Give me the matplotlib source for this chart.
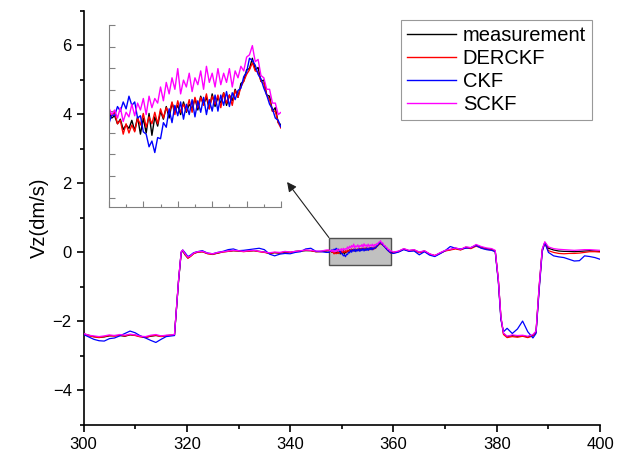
import matplotlib.pyplot as plt
import numpy as np
from matplotlib.patches import Rectangle
from matplotlib.ticker import MultipleLocator, FixedLocator

plt.rcParams['font.family'] = ['Liberation Sans', 'DejaVu Sans']

# time samples (s): before the zoomed window, inside it, after it
t_before = [300, 301, 302, 303, 304, 305, 306, 307, 308, 309, 310, 311, 312, 313, 314, 315, 316, 317,
            317.6, 318.0, 318.4, 318.9, 319.2, 319.6, 320.2, 320.7, 321.3,
            322, 323, 324, 325, 326, 327, 328, 329, 330, 331, 332, 333, 334, 335, 336, 337, 338, 339,
            340, 341, 342, 343, 344, 345, 346, 347]
t_zoom = np.round(np.arange(347.5, 359.51, 0.2), 1)
t_after = [360, 361, 362, 363, 364, 365, 366, 367, 368, 369, 370, 371, 372, 373, 374, 375, 376, 377, 378, 379,
           379.7, 380.3, 380.8, 381.3,
           382, 383, 384, 385, 386, 387,
           387.6, 388.2, 388.8, 389.3,
           390, 391, 392, 393, 394, 395, 396, 397, 398, 399, 400]

meas_before = [-2.36, -2.40, -2.44, -2.46, -2.45, -2.42, -2.41, -2.41, -2.43, -2.39, -2.40, -2.43, -2.46, -2.43, -2.41, -2.43, -2.41, -2.40,
               -2.40, -1.62, -0.82, -0.02, 0.05, -0.06, -0.16, -0.11, -0.03,
               0.01, 0.02, -0.03, -0.05, -0.02, 0.02, 0.03, 0.05, 0.04, 0.03, 0.04, 0.05, 0.03, 0.01, -0.03, -0.01, -0.02, 0.01,
               0.00, 0.03, 0.04, 0.05, 0.05, 0.02, 0.03, 0.04]
derckf_before = [-2.37, -2.42, -2.45, -2.47, -2.44, -2.41, -2.43, -2.40, -2.42, -2.38, -2.41, -2.45, -2.47, -2.42, -2.40, -2.44, -2.42, -2.40,
                 -2.40, -1.60, -0.80, 0.00, 0.06, -0.05, -0.17, -0.12, -0.04,
                 0.00, 0.02, -0.04, -0.06, -0.02, 0.01, 0.03, 0.05, 0.04, 0.02, 0.04, 0.05, 0.02, 0.00, -0.03, 0.00, -0.02, 0.02,
                 0.00, 0.02, 0.04, 0.06, 0.05, 0.02, 0.02, 0.05]
ckf_before = [-2.38, -2.45, -2.52, -2.56, -2.57, -2.50, -2.48, -2.42, -2.35, -2.28, -2.33, -2.42, -2.48, -2.55, -2.61, -2.52, -2.44, -2.42,
              -2.41, -1.62, -0.80, 0.01, 0.07, 0.00, -0.12, -0.08, -0.01,
              0.02, 0.05, -0.02, -0.04, 0.00, 0.03, 0.08, 0.10, 0.05, 0.06, 0.08, 0.10, 0.12, 0.08, -0.05, -0.10, -0.05, -0.03,
              -0.04, 0.00, 0.02, 0.10, 0.12, 0.03, 0.02, 0.00]
sckf_before = [-2.35, -2.40, -2.42, -2.44, -2.42, -2.39, -2.41, -2.38, -2.40, -2.37, -2.39, -2.43, -2.44, -2.40, -2.38, -2.42, -2.40, -2.39,
               -2.38, -1.58, -0.78, 0.02, 0.07, -0.03, -0.14, -0.10, -0.02,
               0.02, 0.03, -0.02, -0.04, 0.00, 0.02, 0.04, 0.06, 0.05, 0.03, 0.05, 0.06, 0.03, 0.01, -0.01, 0.01, 0.00, 0.03,
               0.01, 0.03, 0.05, 0.07, 0.06, 0.04, 0.04, 0.07]

meas_zoom = [0.05, 0.025, 0.035, 0.00, 0.02, -0.025, -0.005, -0.02, 0.015, -0.03,
             0.03, -0.045, 0.025, -0.04, 0.045, -0.05, 0.03, -0.01, 0.055, 0.02,
             0.075, 0.025, 0.09, 0.055, 0.08, 0.04, 0.095, 0.05, 0.085, 0.065,
             0.11, 0.06, 0.12, 0.085, 0.115, 0.065, 0.13, 0.075, 0.115, 0.09,
             0.135, 0.08, 0.125, 0.10, 0.15, 0.115, 0.175, 0.185, 0.235, 0.24,
             0.285, 0.235, 0.245, 0.185, 0.19, 0.125, 0.12, 0.055, 0.07, 0.005, -0.005]
derckf_zoom = [0.06, 0.035, 0.05, 0.00, 0.015, -0.045, 0.00, -0.04, -0.005, -0.035,
               0.025, -0.005, 0.045, -0.015, 0.03, 0.00, 0.05, 0.00, 0.065, 0.025,
               0.07, 0.045, 0.095, 0.04, 0.10, 0.05, 0.085, 0.055, 0.105, 0.05,
               0.115, 0.07, 0.115, 0.08, 0.13, 0.065, 0.12, 0.085, 0.125, 0.07,
               0.135, 0.09, 0.125, 0.08, 0.145, 0.115, 0.16, 0.185, 0.215, 0.235,
               0.265, 0.23, 0.225, 0.185, 0.175, 0.125, 0.105, 0.055, 0.055, 0.005, -0.02]
ckf_zoom = [0.00, 0.04, 0.035, 0.075, 0.055, 0.095, 0.065, 0.12, 0.08, 0.095,
            0.025, 0.035, -0.035, -0.045, -0.10, -0.075, -0.125, -0.06, -0.065, 0.005,
            -0.015, 0.065, 0.005, 0.08, 0.035, 0.095, 0.02, 0.085, 0.04, 0.105,
            0.03, 0.10, 0.05, 0.115, 0.04, 0.105, 0.055, 0.125, 0.055, 0.125,
            0.08, 0.14, 0.075, 0.135, 0.105, 0.145, 0.155, 0.205, 0.225, 0.285,
            0.275, 0.255, 0.215, 0.195, 0.155, 0.125, 0.085, 0.065, 0.025, 0.015, -0.015]
sckf_zoom = [0.07, 0.04, 0.06, 0.025, 0.07, 0.01, 0.05, 0.03, 0.085, 0.035,
             0.09, 0.06, 0.11, 0.04, 0.12, 0.07, 0.11, 0.09, 0.16, 0.10,
             0.18, 0.13, 0.20, 0.15, 0.24, 0.13, 0.19, 0.16, 0.22, 0.14,
             0.20, 0.17, 0.23, 0.15, 0.25, 0.18, 0.22, 0.16, 0.24, 0.17,
             0.22, 0.18, 0.24, 0.16, 0.23, 0.20, 0.25, 0.23, 0.29, 0.30,
             0.34, 0.27, 0.28, 0.21, 0.20, 0.15, 0.15, 0.09, 0.09, 0.04, 0.05]

meas_after = [0.00, 0.03, 0.10, 0.05, 0.07, 0.00, 0.04, -0.05, -0.10, -0.02, 0.05, 0.08, 0.12, 0.08, 0.15, 0.13, 0.21, 0.15, 0.11, 0.09,
              0.04, -0.80, -1.88, -2.35,
              -2.44, -2.41, -2.43, -2.42, -2.45, -2.40,
              -2.30, -1.00, 0.08, 0.29,
              0.12, 0.07, 0.04, 0.03, 0.03, 0.02, 0.03, 0.04, 0.05, 0.04, 0.03]
derckf_after = [-0.02, 0.02, 0.09, 0.04, 0.06, -0.01, 0.03, -0.05, -0.09, -0.03, 0.04, 0.07, 0.10, 0.07, 0.13, 0.11, 0.18, 0.13, 0.09, 0.07,
                0.03, -0.80, -1.90, -2.38,
                -2.47, -2.44, -2.46, -2.43, -2.47, -2.42,
                -2.32, -1.05, 0.05, 0.26,
                0.05, 0.00, -0.03, -0.04, -0.03, -0.03, -0.02, 0.00, 0.02, 0.02, 0.01]
ckf_after = [-0.03, 0.01, 0.08, 0.03, 0.04, -0.07, 0.02, -0.08, -0.12, -0.04, 0.05, 0.17, 0.12, 0.10, 0.12, 0.14, 0.20, 0.12, 0.08, 0.06,
             0.02, -0.85, -1.95, -2.30,
             -2.20, -2.35, -2.22, -1.99, -2.30, -2.48,
             -2.35, -1.10, 0.02, 0.28,
             0.00, -0.10, -0.13, -0.15, -0.20, -0.25, -0.24, -0.10, -0.12, -0.15, -0.20]
sckf_after = [0.01, 0.04, 0.11, 0.06, 0.08, 0.01, 0.05, -0.04, -0.09, -0.01, 0.06, 0.09, 0.13, 0.09, 0.16, 0.14, 0.23, 0.17, 0.13, 0.11,
              0.06, -0.78, -1.86, -2.34,
              -2.43, -2.39, -2.41, -2.40, -2.43, -2.38,
              -2.28, -0.98, 0.10, 0.31,
              0.16, 0.11, 0.09, 0.08, 0.07, 0.06, 0.07, 0.08, 0.08, 0.07, 0.06]

labels = ['measurement', 'DERCKF', 'CKF', 'SCKF']
colors = ['#000000', '#ff0000', '#0000ff', '#ff00ff']

# zoom window shown in the inset
zx0, zx1 = 347.5, 359.5
zy0, zy1 = -0.36, 0.43

t = np.concatenate([t_before, t_zoom, t_after])
series = [np.concatenate([meas_before, meas_zoom, meas_after]),
          np.concatenate([derckf_before, derckf_zoom, derckf_after]),
          np.concatenate([ckf_before, ckf_zoom, ckf_after]),
          np.concatenate([sckf_before, sckf_zoom, sckf_after])]

fig = plt.figure(figsize=(6.33, 4.53), dpi=100)
ax = fig.add_axes([0.132, 0.062, 0.816, 0.914])

handles = []
for y, c, lab in zip(series, colors, labels):
    h, = ax.plot(t, y, color=c, lw=0.9, zorder=3)
    handles.append(h)

ax.add_patch(Rectangle((zx0, zy0), zx1 - zx0, zy1 - zy0, facecolor='#c0c0c0',
                       edgecolor='#505050', lw=1, zorder=2))
ax.annotate('', xy=(339.4, 2.04), xytext=(zx0, zy1),
            arrowprops=dict(arrowstyle='-|>', color='#202020', lw=0.8,
                            mutation_scale=14, shrinkA=0, shrinkB=0))

ax.set_xlim(300, 400)
ax.set_ylim(-5, 7)
ax.spines['top'].set_visible(False)
ax.spines['right'].set_visible(False)
ax.spines['left'].set_linewidth(1.2)
ax.spines['bottom'].set_linewidth(1.2)
ax.xaxis.set_major_locator(MultipleLocator(20))
ax.xaxis.set_minor_locator(MultipleLocator(10))
ax.yaxis.set_major_locator(MultipleLocator(2))
ax.yaxis.set_minor_locator(MultipleLocator(1))
ax.tick_params(which='major', direction='out', length=5, width=1.2, labelsize=12)
ax.tick_params(which='minor', direction='out', length=3, width=1.2)
ax.set_ylabel('Vz(dm/s)', fontsize=14.5, labelpad=3)

leg = ax.legend(handles, labels, loc='upper right', bbox_to_anchor=(592 / 633, 1 - 20 / 453),
                bbox_transform=fig.transFigure, fontsize=14.5, fancybox=False,
                edgecolor='#808080', handlelength=2.4, handletextpad=0.35,
                labelspacing=0.2, borderpad=0.3, borderaxespad=0)
leg.get_frame().set_linewidth(0.8)
for line in leg.get_lines():
    line.set_linewidth(1.0)

# inset with the zoomed window
axin = fig.add_axes([0.172, 0.544, 0.272, 0.401])
for y, c in zip(series, colors):
    axin.plot(t, y, color=c, lw=1.0)
axin.set_xlim(zx0, zx1)
axin.set_ylim(zy0, zy1)
axin.patch.set_alpha(0)
axin.spines['top'].set_visible(False)
axin.spines['right'].set_visible(False)
for s in ['left', 'bottom']:
    axin.spines[s].set_color('#808080')
    axin.spines[s].set_linewidth(0.8)
axin.xaxis.set_major_locator(FixedLocator(np.linspace(zx0, zx1, 6)))
axin.xaxis.set_minor_locator(FixedLocator(np.linspace(zx0, zx1, 11)))
axin.yaxis.set_major_locator(FixedLocator(zy1 - 0.0939 * np.arange(9)))
axin.tick_params(which='both', direction='in', color='#808080', width=0.8,
                 labelbottom=False, labelleft=False)
axin.tick_params(which='major', length=4)
axin.tick_params(which='minor', length=2.5)

fig.savefig('out.png', dpi=100)
